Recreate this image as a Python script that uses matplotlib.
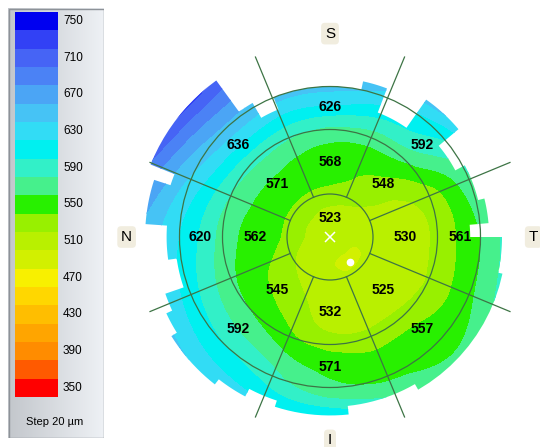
import numpy as np
import matplotlib
matplotlib.use('Agg')
import matplotlib.pyplot as plt
from matplotlib.tri import Triangulation, UniformTriRefiner
from matplotlib.patches import Circle, PathPatch, Rectangle
from matplotlib.path import Path
from matplotlib.colors import LinearSegmentedColormap

plt.rcParams['font.family'] = ['Liberation Sans', 'DejaVu Sans']

# colour scale (lower bound of each 20 um step)
scale_levels = [350, 370, 390, 410, 430, 450, 470, 490, 510, 530, 550,
                570, 590, 610, 630, 650, 670, 690, 710, 730, 750]
scale_colors = ['#ff0000', '#ff5a00', '#ff8c00', '#ffa500', '#ffbe00', '#ffd700',
                '#f8f000', '#d2f000', '#b9f000', '#98f000', '#28f000', '#46f08c',
                '#32f0c8', '#00f0f0', '#32dcf5', '#46c3f5', '#4ba5f5', '#4b82f5',
                '#4664f5', '#3241f5', '#0000f0']
scale_labels = [750, 710, 670, 630, 590, 550, 510, 470, 430, 390, 350]

# sector averages (um)
sector_names = ['S', 'ST', 'T', 'IT', 'I', 'IN', 'N', 'SN']
sector_deg = [90, 45, 0, 315, 270, 225, 180, 135]
inner_vals = [568, 548, 530, 525, 532, 545, 562, 571]
outer_vals = [626, 592, 561, 557, 571, 592, 620, 636]
center_val = 523

# thickness map read at polar nodes (angle from temporal, radius mm)
center_thickness = 520
radii_mm = [0.75, 1.5, 2.25, 3.0, 3.5, 4.0, 4.6]
angles_deg = [0, 22.5, 45, 67.5, 90, 112.5, 135, 157.5,
              180, 202.5, 225, 247.5, 270, 292.5, 315, 337.5]
thickness = [
    [513, 519, 528, 552, 570, 592, 612],
    [516, 523, 534, 560, 585, 612, 638],
    [523, 540, 560, 598, 618, 655, 670],
    [528, 550, 568, 610, 640, 662, 682],
    [531, 557, 572, 624, 655, 672, 690],
    [533, 559, 578, 626, 658, 684, 710],
    [535, 560, 582, 630, 664, 695, 740],
    [535, 560, 578, 618, 646, 675, 715],
    [535, 558, 573, 606, 629, 650, 672],
    [528, 550, 566, 596, 619, 641, 666],
    [521, 540, 560, 588, 610, 632, 660],
    [516, 530, 546, 576, 597, 622, 655],
    [512, 521, 531, 563, 575, 612, 660],
    [509, 515, 527, 555, 566, 590, 620],
    [509, 514, 527, 553, 558, 572, 595],
    [510, 515, 525, 548, 565, 585, 605],
]
thinnest_xy = (0.47, -0.58)

# measured area outline: start angle of each block and its radius (mm)
edge_start = [0, 5, 14, 28, 40, 55, 69, 78, 112, 120, 126, 158, 162, 176,
              188, 199, 205, 212, 232, 242, 252, 276, 300, 348]
edge_r = [3.26, 3.7, 3.55, 3.3, 3.9, 3.1, 3.7, 3.5, 3.2, 3.6, 4.5, 3.9, 4.3, 3.8,
          3.6, 4.05, 4.2, 4.35, 4.2, 4.0, 4.15, 3.95, 4.1, 4.0]

ring_r = [1.0, 2.5, 3.5]
line_color = '#3d7445'

fig = plt.figure(figsize=(5.4, 4.47), dpi=100)

# ---- map
ax = fig.add_axes([119.3 / 540, 3.6 / 447, 419.25 / 540, 417.1 / 447])
ax.set_xlim(-4.9, 4.85)
ax.set_ylim(-4.8, 4.9)
ax.set_aspect('equal')
ax.axis('off')

ang = np.deg2rad(angles_deg)
rr, aa = np.meshgrid(radii_mm, ang)
px = np.concatenate([[0.0], (rr * np.cos(aa)).ravel()])
py = np.concatenate([[0.0], (rr * np.sin(aa)).ravel()])
pz = np.concatenate([[center_thickness], np.array(thickness, float).ravel()])
tri = Triangulation(px, py)
tri_f, z_f = UniformTriRefiner(tri).refine_field(pz, subdiv=4)

cs = ax.tricontourf(tri_f, z_f, levels=scale_levels + [770], colors=scale_colors)

# stepped outline of the measured area
verts = []
ends = edge_start[1:] + [360]
for a0, a1, r in zip(edge_start, ends, edge_r):
    t = np.deg2rad(np.linspace(a0, a1, 12))
    verts += list(zip(r * np.cos(t), r * np.sin(t)))
verts.append(verts[0])
codes = [Path.MOVETO] + [Path.LINETO] * (len(verts) - 2) + [Path.CLOSEPOLY]
clip = PathPatch(Path(verts, codes), transform=ax.transData, fc='none', ec='none')
ax.add_patch(clip)
cs.set_clip_path(clip)

for r in ring_r:
    ax.add_patch(Circle((0, 0), r, fill=False, ec=line_color, lw=0.9))
for d in sector_deg:
    t = np.deg2rad(d + 22.5)
    ax.plot([1.0 * np.cos(t), 4.53 * np.cos(t)], [1.0 * np.sin(t), 4.53 * np.sin(t)],
            color=line_color, lw=0.9)

for d, vi, vo in zip(sector_deg, inner_vals, outer_vals):
    t = np.deg2rad(d)
    ax.text(1.75 * np.cos(t), 1.75 * np.sin(t), str(vi), ha='center', va='center',
            fontsize=10, fontweight='bold')
    ax.text(3.02 * np.cos(t), 3.02 * np.sin(t), str(vo), ha='center', va='center',
            fontsize=10, fontweight='bold')
ax.text(0, 0.45, str(center_val), ha='center', va='center', fontsize=10, fontweight='bold')

ax.plot(0, 0, marker='x', color='white', ms=7, mew=1.1)
ax.plot(*thinnest_xy, marker='o', color='white', ms=4.5)

for name, d in zip(['S', 'T', 'I', 'N'], [90, 0, 270, 180]):
    t = np.deg2rad(d)
    ax.text(4.73 * np.cos(t), 4.73 * np.sin(t), name, ha='center', va='center',
            fontsize=11, clip_on=False,
            bbox=dict(boxstyle='round,pad=0.25', fc='#f1eddf', ec='none'))

# ---- colour scale panel
pan = fig.add_axes([8 / 540, 9 / 447, 96 / 540, 430 / 447])
pan.set_xlim(0, 96)
pan.set_ylim(430, 0)
pan.axis('off')
grad = LinearSegmentedColormap.from_list('panel', ['#c3c7cc', '#eef1f5'])
pan.imshow(np.linspace(0, 1, 64)[None, :], cmap=grad, extent=(0, 96, 430, 0), aspect='auto')
pan.add_patch(Rectangle((0.5, 0.5), 95, 429, fill=False, ec='#8d9298', lw=1))

block_h = 18.33
top_down = list(zip(scale_levels, scale_colors))[::-1]
centers = [4 + block_h * (i + 0.5) for i in range(len(top_down))]
pan.barh(centers, width=43, left=7, height=block_h, color=[c for _, c in top_down])
for (lev, _), yc in zip(top_down, centers):
    if lev in scale_labels:
        pan.text(55, yc, str(lev), va='center', ha='left', fontsize=8.5)
pan.text(47, 414, 'Step 20 µm', ha='center', va='center', fontsize=8)

fig.savefig('out.png', dpi=100)
